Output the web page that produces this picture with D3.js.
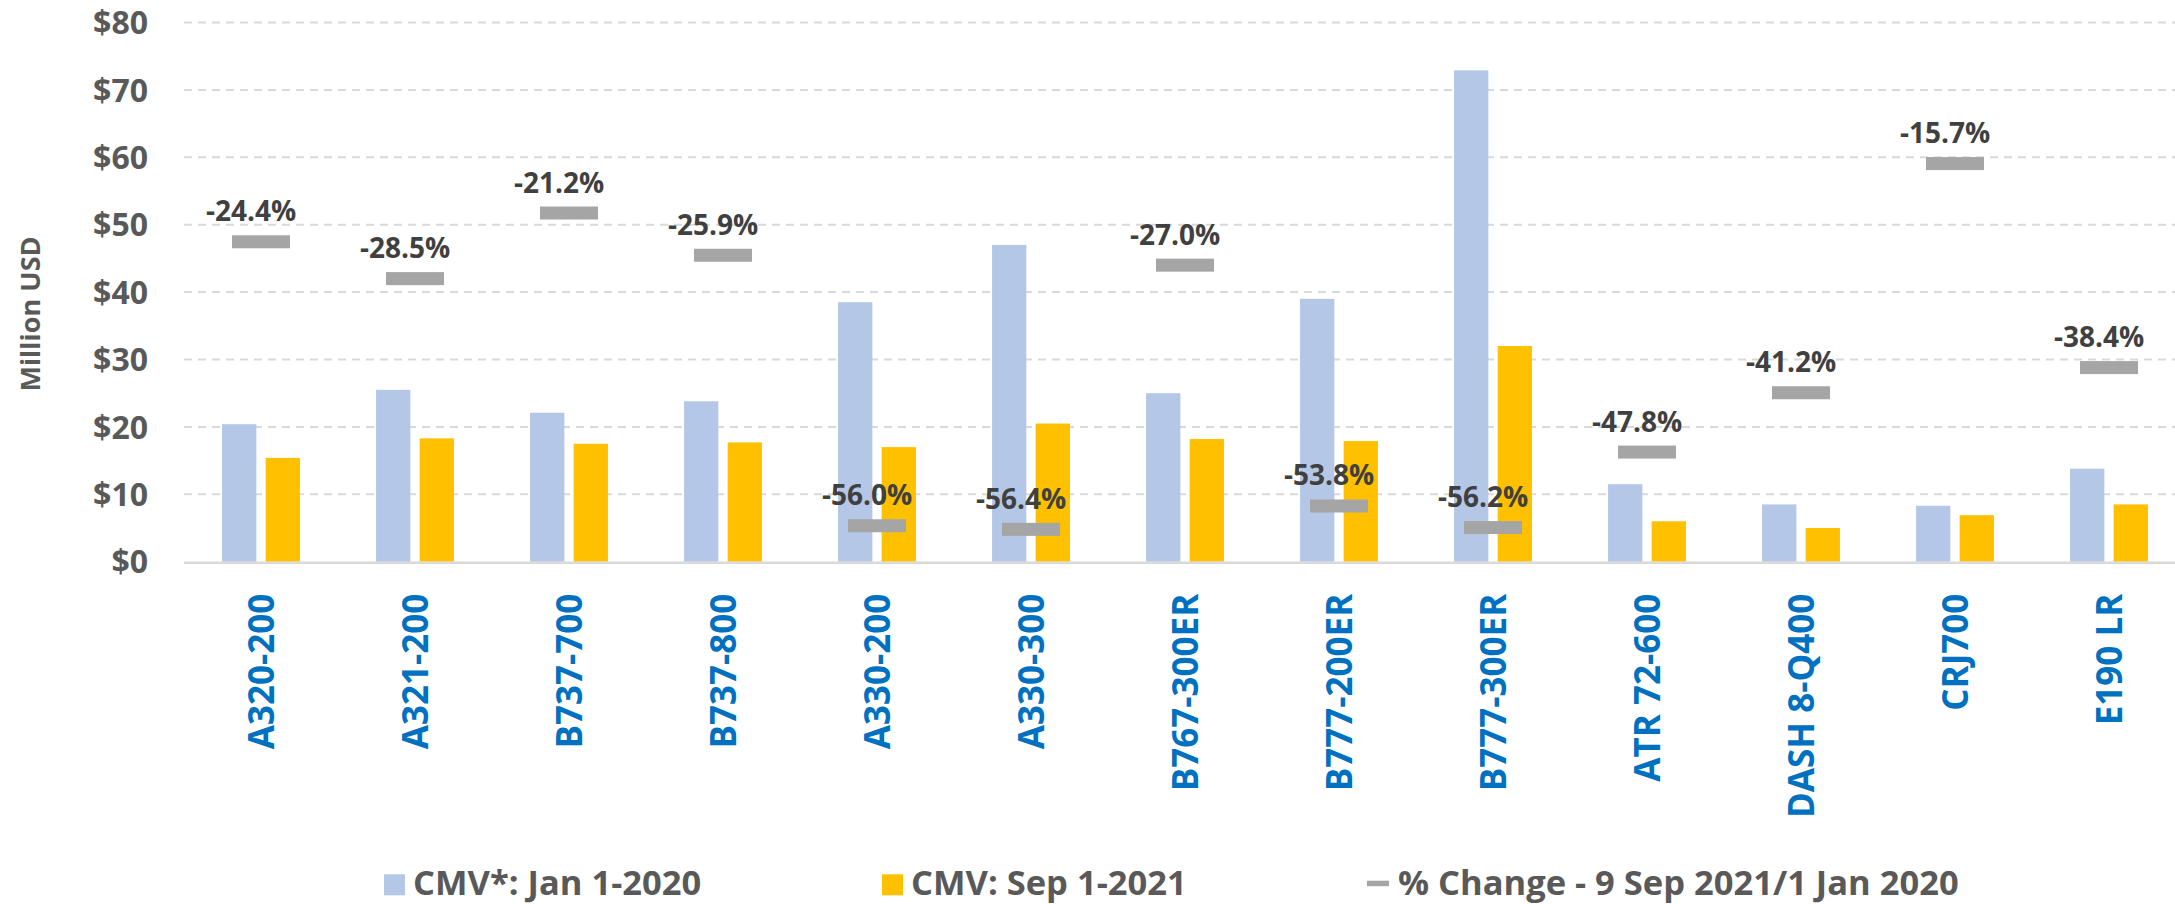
<!DOCTYPE html>
<html>
<head>
<meta charset="utf-8">
<script src="https://cdn.jsdelivr.net/npm/d3@7"></script>
<style>
  html, body { margin: 0; padding: 0; background: #fff; }
  svg { display: block; }
  text { font-family: "Open Sans", "Noto Sans", sans-serif; font-weight: 700; }
</style>
</head>
<body>
<svg id="chart" width="2175" height="904"></svg>
<script>
const categories = ["A320-200","A321-200","B737-700","B737-800","A330-200","A330-300","B767-300ER","B777-200ER","B777-300ER","ATR 72-600","DASH 8-Q400","CRJ700","E190 LR"];
const cmvJan2020 = [20.4, 25.5, 22.1, 23.8, 38.5, 47.0, 25.0, 39.0, 72.9, 11.5, 8.5, 8.3, 13.8];
const cmvSep2021 = [15.4, 18.3, 17.5, 17.7, 17.0, 20.5, 18.2, 17.9, 32.0, 6.0, 5.0, 6.9, 8.5];
const pctChange  = [-24.4, -28.5, -21.2, -25.9, -56.0, -56.4, -27.0, -53.8, -56.2, -47.8, -41.2, -15.7, -38.4];
const yTicks = [0, 10, 20, 30, 40, 50, 60, 70, 80];
const seriesNames = ["CMV*: Jan 1-2020", "CMV: Sep 1-2021", "% Change - 9 Sep 2021/1 Jan 2020"];
const axisTitle = "Million USD";

const colors = { jan: "#b4c7e7", sep: "#ffc000", pct: "#a5a5a5", grid: "#d9d9d9", axisText: "#595959", label: "#404040", cat: "#0070c0" };

const svg = d3.select("#chart");
const plot = { left: 184, right: 2186, top: 22.5, bottom: 561.7 };

const x = d3.scaleBand().domain(categories).range([plot.left, plot.right]).paddingInner(0).paddingOuter(0);
const y = d3.scaleLinear().domain([0, 80]).range([plot.bottom, plot.top]);
const y2 = d3.scaleLinear().domain([-60, 0]).range([plot.bottom, plot.top]);

const barW = 34.3, gap = 9.3;

// Gridlines
svg.append("g").selectAll("line").data(yTicks.filter(d => d > 0)).join("line")
  .attr("x1", plot.left).attr("x2", plot.right)
  .attr("y1", d => y(d)).attr("y2", d => y(d))
  .attr("stroke", colors.grid).attr("stroke-width", 2).attr("stroke-dasharray", "8,6");

// Y axis labels
const yAxis = d3.axisLeft(y).tickValues(yTicks).tickFormat(d => "$" + d).tickSize(0).tickPadding(0);
const gy = svg.append("g").attr("transform", `translate(148,0)`).call(yAxis);
gy.select(".domain").remove();
gy.selectAll("text").attr("font-size", 32).attr("fill", colors.axisText)
  .attr("font-family", '"Open Sans", sans-serif').attr("font-weight", 700).attr("dy", "0.35em");

// Axis title
svg.append("text").attr("transform", "translate(40,314) rotate(-90)")
  .attr("text-anchor", "middle").attr("font-size", 27).attr("fill", colors.axisText).text(axisTitle);

// Bars
const cx = d => x(d) + x.bandwidth() / 2;
svg.append("g").selectAll("rect").data(categories).join("rect")
  .attr("x", d => cx(d) - gap / 2 - barW).attr("width", barW)
  .attr("y", (d, i) => y(cmvJan2020[i])).attr("height", (d, i) => y(0) - y(cmvJan2020[i]))
  .attr("fill", colors.jan);
svg.append("g").selectAll("rect").data(categories).join("rect")
  .attr("x", d => cx(d) + gap / 2).attr("width", barW)
  .attr("y", (d, i) => y(cmvSep2021[i])).attr("height", (d, i) => y(0) - y(cmvSep2021[i]))
  .attr("fill", colors.sep);

// X axis line
svg.append("line").attr("x1", plot.left).attr("x2", plot.right)
  .attr("y1", y(0) + 1).attr("y2", y(0) + 1).attr("stroke", colors.grid).attr("stroke-width", 2.5);

// Markers
const mW = 58, mH = 13;
svg.append("g").selectAll("rect").data(categories).join("rect")
  .attr("x", d => cx(d) - mW / 2).attr("width", mW)
  .attr("y", (d, i) => y2(pctChange[i]) - mH / 2).attr("height", mH)
  .attr("fill", colors.pct);

// Marker labels (ASCII hyphen-minus as in the original)
const fmtPct = v => (v < 0 ? "-" : "") + Math.abs(v).toFixed(1) + "%";
svg.append("g").selectAll("text").data(categories).join("text")
  .attr("x", d => cx(d) - 10)
  .attr("y", (d, i) => y2(pctChange[i]) - mH / 2 - 14)
  .attr("text-anchor", "middle").attr("font-size", 28).attr("fill", colors.label)
  .text((d, i) => fmtPct(pctChange[i]));

// Category labels
const xAxis = d3.axisBottom(x).tickSize(0).tickPadding(0);
const gx = svg.append("g").attr("transform", `translate(0,${plot.bottom})`).call(xAxis);
gx.select(".domain").remove();
gx.selectAll("text")
  .attr("font-size", 35).attr("fill", colors.cat)
  .attr("font-family", '"Open Sans", sans-serif').attr("font-weight", 700)
  .attr("text-anchor", "end")
  .attr("transform", "rotate(-90)")
  .attr("x", -32).attr("y", 0).attr("dy", "0.36em");

// Legend
const legendX = [384, 882, 1367];
const lg = svg.append("g");
const items = lg.selectAll("g").data(seriesNames).join("g")
  .attr("transform", (d, i) => `translate(${legendX[i]},0)`);
items.each(function(d, i) {
  const g = d3.select(this);
  if (i < 2) {
    g.append("rect").attr("x", 0).attr("y", 874.3).attr("width", 21).attr("height", 21)
      .attr("fill", i === 0 ? colors.jan : colors.sep);
  } else {
    g.append("rect").attr("x", 0).attr("y", 880.7).attr("width", 22).attr("height", 5.5)
      .attr("fill", colors.pct);
  }
  g.append("text").attr("x", i < 2 ? 29 : 31).attr("y", 895)
    .attr("font-size", 34.5).attr("fill", colors.axisText).text(d);
});
</script>
</body>
</html>
